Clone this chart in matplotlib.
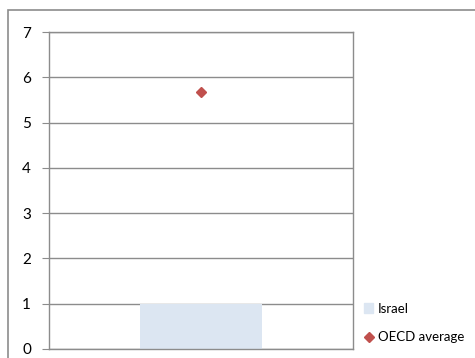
import matplotlib
matplotlib.use("Agg")
import matplotlib.pyplot as plt
from matplotlib.patches import Rectangle
from matplotlib.lines import Line2D

categories = ["Israel"]
israel_values = [1.0]
oecd_values = [5.67]
y_ticks = [0, 1, 2, 3, 4, 5, 6, 7]

plt.rcParams["font.family"] = ["Lato", "DejaVu Sans"]

W, H = 475, 358
fig = plt.figure(figsize=(W / 100, H / 100), dpi=100)

# outer chart-area border (only top/left visible in reference)
fig.patches.append(Rectangle((8 / W, -0.1), 1.2, 1 - 10 / H + 0.1,
                             transform=fig.transFigure, fill=False,
                             edgecolor="#8c8c8c", linewidth=1.2))

ax = fig.add_axes([49 / W, 1 - 349 / H, (353 - 49) / W, (349 - 32) / H])
x = list(range(len(categories)))
ax.bar(x, israel_values, width=0.4, color="#dce6f2", zorder=2)
ax.plot(x, oecd_values, linestyle="none", marker="D", markersize=5.5,
        color="#c0504d", zorder=3)

ax.set_xlim(-0.5, 0.5)
ax.set_ylim(0, 7)
ax.set_yticks(y_ticks)
ax.set_xticks([])
ax.grid(axis="y", color="#8c8c8c", linewidth=1.0, zorder=1)
for s in ax.spines.values():
    s.set_color("#8c8c8c")
    s.set_linewidth(1.0)
ax.tick_params(axis="y", length=5, color="#8c8c8c", labelsize=11, pad=8)

handles = [
    Rectangle((0, 0), 1, 1, color="#dce6f2"),
    Line2D([], [], linestyle="none", marker="D", markersize=5, color="#c0504d"),
]
fig.legend(handles, ["Israel", "OECD average"], loc="upper left",
           bbox_to_anchor=(364 / W, 1 - 303 / H), frameon=False, fontsize=9.5,
           handlelength=0.7, handleheight=0.8, handletextpad=0.35,
           labelspacing=1.25, borderaxespad=0, borderpad=0)

fig.savefig("out.png", dpi=100)
